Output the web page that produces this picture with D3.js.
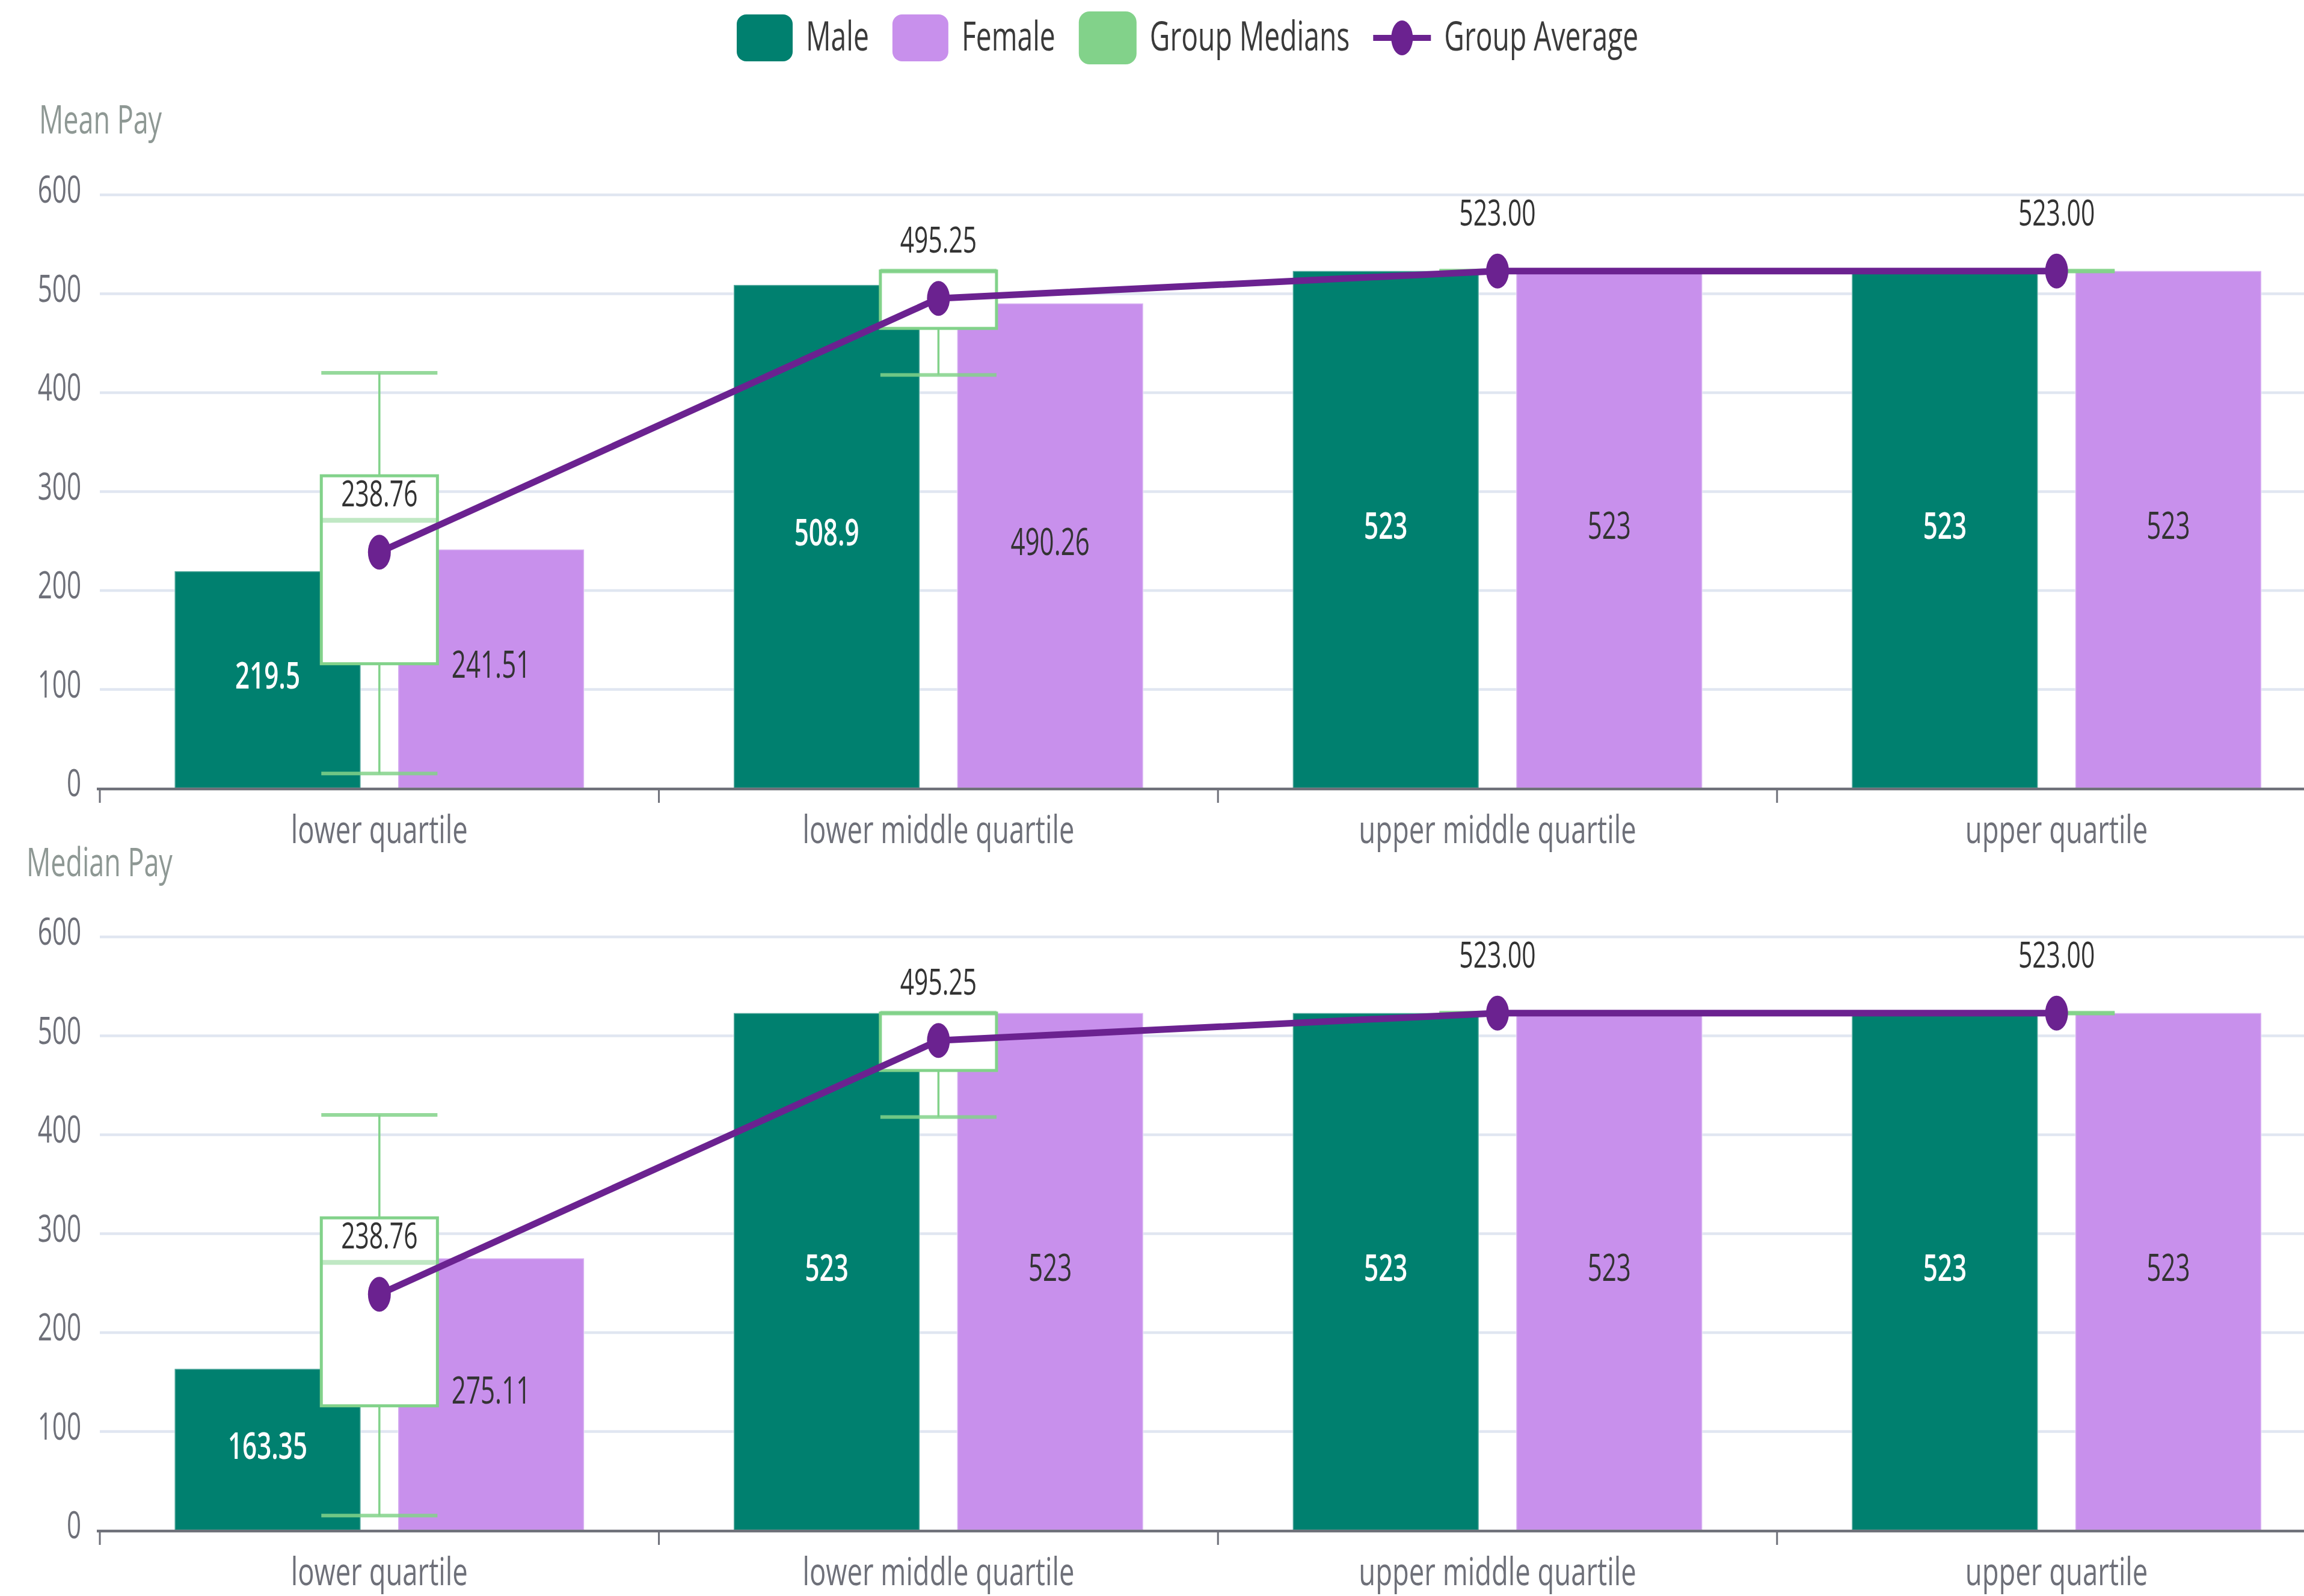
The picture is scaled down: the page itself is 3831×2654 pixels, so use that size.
<!DOCTYPE html>
<html>
<head>
<meta charset="utf-8">
<script src="https://cdn.jsdelivr.net/npm/d3@7"></script>
<style>
  html, body { margin: 0; padding: 0; background: #ffffff; }
  svg { display: block; }
</style>
</head>
<body>
<script>
// ---- data ----
const categories = ["lower quartile", "lower middle quartile", "upper middle quartile", "upper quartile"];
const meanMale = [219.5, 508.9, 523, 523];
const meanFemale = [241.51, 490.26, 523, 523];
const medianMale = [163.35, 523, 523, 523];
const medianFemale = [275.11, 523, 523, 523];
const groupAverage = [238.76, 495.25, 523.00, 523.00];
// group medians box plot: min, q1, median, q3, max
const boxMin = [15, 418, 523, 523];
const boxQ1 = [126, 465, 523, 523];
const boxMedian = [271, 523, 523, 523];
const boxQ3 = [316, 523, 523, 523];
const boxMax = [420, 523, 523, 523];
const yTicks = [0, 100, 200, 300, 400, 500, 600];
const legendLabels = ["Male", "Female", "Group Medians", "Group Average"];

// ---- layout ----
const W = 3831, H = 2654;
const SX = 0.68;                 // narrow text / marker width factor
const FONT = "'Open Sans', sans-serif";
const C = { male: "#00806f", female: "#c890ec", median: "#82d28a", avg: "#6b2290",
            grid: "#e0e6f1", axis: "#6e7079", title: "#8e9894", dark: "#333333" };

const svg = d3.select("body").append("svg").attr("width", W).attr("height", H);

function label(g, x, y, txt, size, fill, anchor = "middle", weight = 400, sx = SX) {
  return g.append("text")
    .attr("transform", `translate(${x},${y}) scale(${sx},1)`)
    .attr("text-anchor", anchor)
    .attr("font-family", FONT)
    .attr("font-size", size)
    .attr("font-weight", weight)
    .attr("fill", fill)
    .text(txt);
}

const plotLeft = 166, step = 929.6;
const x = d3.scaleBand().domain(categories).range([plotLeft, plotLeft + step * categories.length]).padding(0);
const xs = d3.scaleBand().domain(["male", "female"]).range([0, x.bandwidth()])
  .paddingInner(0.168).paddingOuter(0.335);
const boxW = x.bandwidth() * 0.2077;

const panels = [
  { title: "Mean Pay", male: meanMale, female: meanFemale, top: 324, bottom: 1311, titleX: 65, titleY: 222 },
  { title: "Median Pay", male: medianMale, female: medianFemale, top: 1558, bottom: 2545, titleX: 44, titleY: 1457 }
];

panels.forEach(p => {
  const g = svg.append("g");
  const y = d3.scaleLinear().domain([0, 600]).range([p.bottom, p.top]);

  // title
  label(g, p.titleX, p.titleY, p.title, 66, C.title, "start");

  // gridlines + y labels
  yTicks.forEach(t => {
    if (t > 0) g.append("line").attr("x1", plotLeft).attr("x2", W)
      .attr("y1", y(t)).attr("y2", y(t)).attr("stroke", C.grid).attr("stroke-width", 4.5);
    label(g, 135, y(t) + 13, String(t), 62, C.axis, "end");
  });

  // bars
  categories.forEach((c, i) => {
    const x0 = x(c);
    const vals = [["male", p.male[i]], ["female", p.female[i]]];
    vals.forEach(([k, v]) => {
      g.append("rect")
        .attr("x", x0 + xs(k)).attr("width", xs.bandwidth())
        .attr("y", y(v)).attr("height", y(0) - y(v))
        .attr("fill", C[k])
        .attr("stroke", "#ffffff").attr("stroke-opacity", 0.3).attr("stroke-width", 3);
    });
  });

  // axis line and boundary ticks
  g.append("line").attr("x1", plotLeft - 5).attr("x2", W).attr("y1", y(0) + 1).attr("y2", y(0) + 1)
    .attr("stroke", C.axis).attr("stroke-width", 4.5);
  categories.concat(["_end"]).forEach((c, i) => {
    const xx = plotLeft + i * x.step();
    g.append("line").attr("x1", xx).attr("x2", xx).attr("y1", y(0) + 2).attr("y2", y(0) + 24)
      .attr("stroke", C.axis).attr("stroke-width", 3);
  });
  categories.forEach(c => {
    label(g, x(c) + x.bandwidth() / 2, y(0) + 91, c, 64, C.axis, "middle", 400, 0.71);
  });

  // group medians box plots
  categories.forEach((c, i) => {
    const cx = x(c) + x.bandwidth() / 2;
    const bx = cx - boxW / 2;
    if (boxMax[i] > boxQ3[i])
      g.append("line").attr("x1", cx).attr("x2", cx).attr("y1", y(boxMax[i])).attr("y2", y(boxQ3[i]))
        .attr("stroke", C.median).attr("stroke-width", 3.5);
    if (boxQ1[i] > boxMin[i])
      g.append("line").attr("x1", cx).attr("x2", cx).attr("y1", y(boxQ1[i])).attr("y2", y(boxMin[i]))
        .attr("stroke", C.median).attr("stroke-width", 3.5);
    if (boxQ3[i] > boxQ1[i])
      g.append("rect").attr("x", bx).attr("width", boxW)
        .attr("y", y(boxQ3[i])).attr("height", y(boxQ1[i]) - y(boxQ3[i]))
        .attr("fill", "#ffffff").attr("stroke", C.median).attr("stroke-width", 5);
    g.append("line").attr("x1", bx).attr("x2", bx + boxW)
      .attr("y1", y(boxMedian[i])).attr("y2", y(boxMedian[i]))
      .attr("stroke", C.median).attr("stroke-opacity", 0.5).attr("stroke-width", 8);
    [boxMin[i], boxMax[i]].forEach(v => {
      g.append("line").attr("x1", bx).attr("x2", bx + boxW).attr("y1", y(v)).attr("y2", y(v))
        .attr("stroke", C.median).attr("stroke-opacity", 0.85).attr("stroke-width", 6);
    });
  });

  // group average line + points
  const pts = categories.map((c, i) => [x(c) + x.bandwidth() / 2, y(groupAverage[i])]);
  g.append("path").attr("d", d3.line()(pts)).attr("fill", "none")
    .attr("stroke", C.avg).attr("stroke-width", 11).attr("stroke-linejoin", "round");
  pts.forEach(([px, py]) => {
    g.append("ellipse").attr("cx", px).attr("cy", py).attr("rx", 19).attr("ry", 29).attr("fill", C.avg);
  });

  // value labels
  categories.forEach((c, i) => {
    const x0 = x(c);
    const mv = p.male[i], fv = p.female[i];
    label(g, x0 + xs("male") + xs.bandwidth() / 2, (y(mv) + y(0)) / 2 + 15, String(mv), 62, "#ffffff", "middle", 600);
    label(g, x0 + xs("female") + xs.bandwidth() / 2, (y(fv) + y(0)) / 2 + 15, String(fv), 62, C.dark, "middle");
    label(g, x0 + x.bandwidth() / 2, y(groupAverage[i]) - 76, groupAverage[i].toFixed(2), 60, C.dark, "middle");
  });
});

// ---- legend ----
const lg = svg.append("g");
let lx = 1225;
legendLabels.forEach((name, i) => {
  if (i === 0 || i === 1) {
    lg.append("rect").attr("x", lx).attr("y", 24).attr("width", 93).attr("height", 78)
      .attr("rx", 16).attr("fill", i === 0 ? C.male : C.female);
    lx += 93 + 22;
  } else if (i === 2) {
    lg.append("rect").attr("x", lx).attr("y", 19).attr("width", 96).attr("height", 88)
      .attr("rx", 18).attr("fill", C.median);
    lx += 96 + 22;
  } else {
    lg.append("line").attr("x1", lx).attr("x2", lx + 96).attr("y1", 63).attr("y2", 63)
      .attr("stroke", C.avg).attr("stroke-width", 10);
    lg.append("ellipse").attr("cx", lx + 48).attr("cy", 63).attr("rx", 18).attr("ry", 29).attr("fill", C.avg);
    lx += 96 + 22;
  }
  const t = label(lg, lx, 84, name, 68, "#3a3a3a", "start");
  lx += t.node().getComputedTextLength() * SX + 39;
});
</script>
</body>
</html>
